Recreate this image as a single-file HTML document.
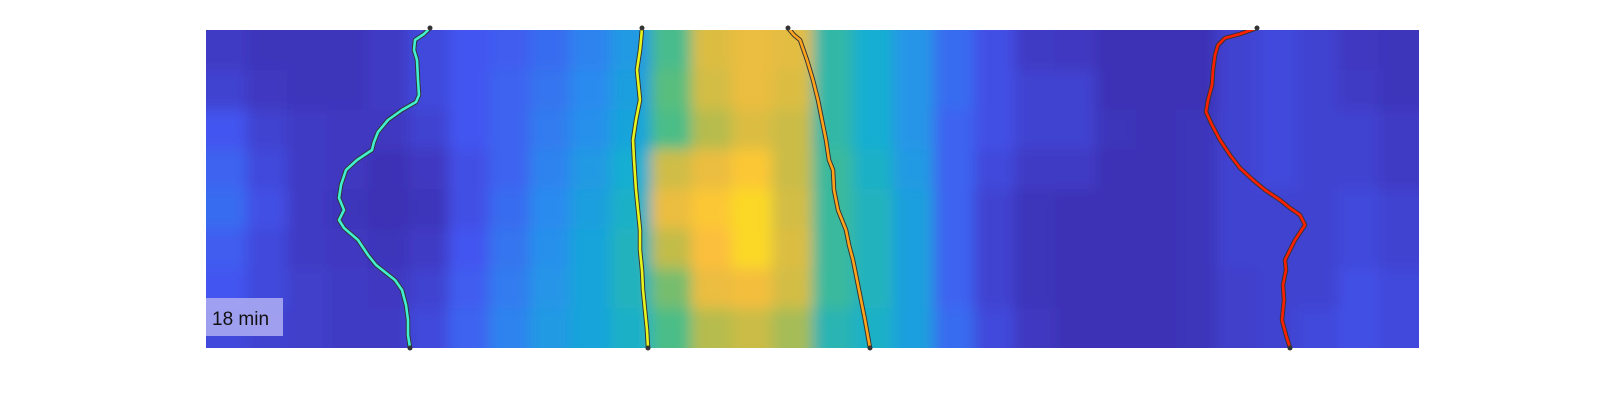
<!DOCTYPE html>
<html><head><meta charset="utf-8"><style>
body{margin:0;background:#fff;}
svg{display:block;font-family:"Liberation Sans",sans-serif;}
</style></head><body>
<svg id="chart" width="1600" height="400" viewBox="0 0 1600 400">
<defs>
<clipPath id="clip"><rect x="206" y="30" width="1213" height="318"/></clipPath>
<filter id="blur" x="-5%" y="-5%" width="110%" height="110%"><feGaussianBlur stdDeviation="7"/></filter>
</defs>
<g id="cells" clip-path="url(#clip)"><g id="cellsInner" filter="url(#blur)"></g></g>
<g id="tracks" clip-path="url(#clip)"></g>
<g id="ends"></g>
<rect x="206" y="298" width="77" height="38" fill="#aaa8f2" opacity="0.9"/>
<text x="212" y="325" font-size="19" fill="#111">18 min</text>
</svg>
<script>
// heatmap values (rows top→bottom, 30 columns)
const heatRows = [
[0.06,0.04,0.04,0.04,0.06,0.10,0.14,0.16,0.20,0.26,0.34,0.55,0.78,0.82,0.80,0.50,0.42,0.32,0.20,0.12,0.06,0.05,0.03,0.03,0.03,0.08,0.10,0.08,0.05,0.04],
[0.08,0.05,0.04,0.04,0.06,0.10,0.14,0.18,0.22,0.28,0.36,0.58,0.76,0.82,0.78,0.50,0.42,0.32,0.20,0.12,0.08,0.08,0.03,0.03,0.03,0.08,0.10,0.08,0.06,0.04],
[0.14,0.08,0.06,0.05,0.05,0.08,0.14,0.18,0.24,0.30,0.38,0.56,0.70,0.78,0.74,0.50,0.42,0.32,0.18,0.12,0.08,0.08,0.04,0.03,0.04,0.08,0.10,0.08,0.08,0.06],
[0.18,0.10,0.06,0.05,0.03,0.05,0.12,0.18,0.26,0.34,0.42,0.75,0.82,0.88,0.74,0.52,0.44,0.34,0.18,0.10,0.06,0.06,0.03,0.03,0.04,0.08,0.10,0.08,0.08,0.06],
[0.20,0.12,0.06,0.04,0.03,0.04,0.12,0.20,0.28,0.36,0.44,0.82,0.88,0.92,0.76,0.52,0.46,0.36,0.18,0.08,0.04,0.03,0.03,0.03,0.04,0.08,0.08,0.08,0.10,0.08],
[0.16,0.10,0.06,0.05,0.04,0.06,0.14,0.22,0.30,0.38,0.46,0.72,0.86,0.92,0.78,0.52,0.46,0.36,0.18,0.08,0.04,0.03,0.03,0.03,0.04,0.08,0.08,0.08,0.10,0.08],
[0.14,0.10,0.07,0.06,0.05,0.08,0.16,0.24,0.32,0.38,0.46,0.62,0.82,0.84,0.76,0.52,0.46,0.36,0.18,0.08,0.04,0.03,0.03,0.03,0.04,0.07,0.08,0.08,0.12,0.10],
[0.10,0.08,0.07,0.06,0.06,0.10,0.18,0.26,0.34,0.38,0.44,0.56,0.70,0.74,0.68,0.48,0.44,0.36,0.20,0.10,0.05,0.03,0.03,0.03,0.04,0.07,0.08,0.10,0.12,0.10]
];
// track x positions at sampled y positions (data)
const trackY = {
 teal:[28,34,40,50,60,80,95,102,110,120,132,142,150,160,170,185,198,210,220,228,240,255,265,280,290,305,320,335,348],
 yellow:[28,40,50,70,100,120,140,160,190,210,230,250,270,290,310,330,348],
 orange:[28,35,40,60,80,100,120,140,160,170,190,210,220,230,245,260,280,300,320,348],
 red:[28,34,38,45,55,70,85,100,112,125,140,155,168,180,190,200,208,215,225,240,250,260,270,285,300,320,335,348]
};
const trackX = {
 teal:[430,424,415,414,417,418,419,416,402,388,378,374,372,357,346,341,339,344,339,344,358,368,376,395,402,406,408,408,410],
 yellow:[642,641,640,637,640,636,633,634,636,638,640,640,642,643,645,647,648],
 orange:[788,794,800,807,813,818,822,826,829,833,834,838,842,846,849,853,857,861,865,870],
 red:[1257,1240,1225,1218,1215,1213,1212,1208,1206,1212,1220,1230,1240,1253,1265,1280,1290,1300,1305,1295,1290,1285,1286,1283,1284,1282,1286,1290]
};
const trackColor = {teal:"#40f0d0",yellow:"#e6f51c",orange:"#ffa31a",red:"#ff2000"};

const X0=206,X1=1419,Y0=30,Y1=348;
const nC=heatRows[0].length,nR=heatRows.length;
const xScale=i=>X0+(X1-X0)*i/nC, yScale=j=>Y0+(Y1-Y0)*j/nR;
const stops=[[0,[60,40,165]],[0.14,[67,85,240]],[0.28,[44,139,239]],[0.42,[18,174,210]],[0.57,[80,190,130]],[0.71,[190,188,74]],[0.86,[252,190,60]],[1,[249,251,14]]];
function parula(v){v=Math.max(0,Math.min(1,v));for(let k=1;k<stops.length;k++){if(v<=stops[k][0]){const a=stops[k-1],b=stops[k],t=(v-a[0])/(b[0]-a[0]);return 'rgb('+a[1].map((c,i)=>Math.round(c+(b[1][i]-c)*t)).join(',')+')';}}}
const NS="http://www.w3.org/2000/svg";
const g=document.getElementById('cellsInner');
for(let j=0;j<nR;j++)for(let i=0;i<nC;i++){
 const r=document.createElementNS(NS,'rect');
 r.setAttribute('x',xScale(i)-(i==0?30:0));r.setAttribute('y',yScale(j)-(j==0?30:0));
 r.setAttribute('width',(X1-X0)/nC+(i==0||i==nC-1?30:0)+1);r.setAttribute('height',(Y1-Y0)/nR+(j==0||j==nR-1?30:0)+1);
 r.setAttribute('fill',parula(heatRows[j][i]));
 
 
 g.appendChild(r);
}
const tg=document.getElementById('tracks'),eg=document.getElementById('ends');
for(const k in trackX){
 const d=trackX[k].map((x,i)=>(i?'L':'M')+x+','+trackY[k][i]).join(' ');
 for(const [w,c] of [[4.5,'#333'],[2.6,trackColor[k]]]){
  const p=document.createElementNS(NS,'path');
  p.setAttribute('d',d);p.setAttribute('fill','none');p.setAttribute('stroke',c);p.setAttribute('stroke-width',w);
  p.setAttribute('stroke-linejoin','round');p.setAttribute('stroke-linecap','round');
  
  
  tg.appendChild(p);
 }
 [0,trackX[k].length-1].forEach(i=>{
  const c=document.createElementNS(NS,'circle');
  c.setAttribute('cx',trackX[k][i]);c.setAttribute('cy',trackY[k][i]);c.setAttribute('r',2.5);c.setAttribute('fill','#333');
  
  
  eg.appendChild(c);
 });
}
</script>
</body></html>
